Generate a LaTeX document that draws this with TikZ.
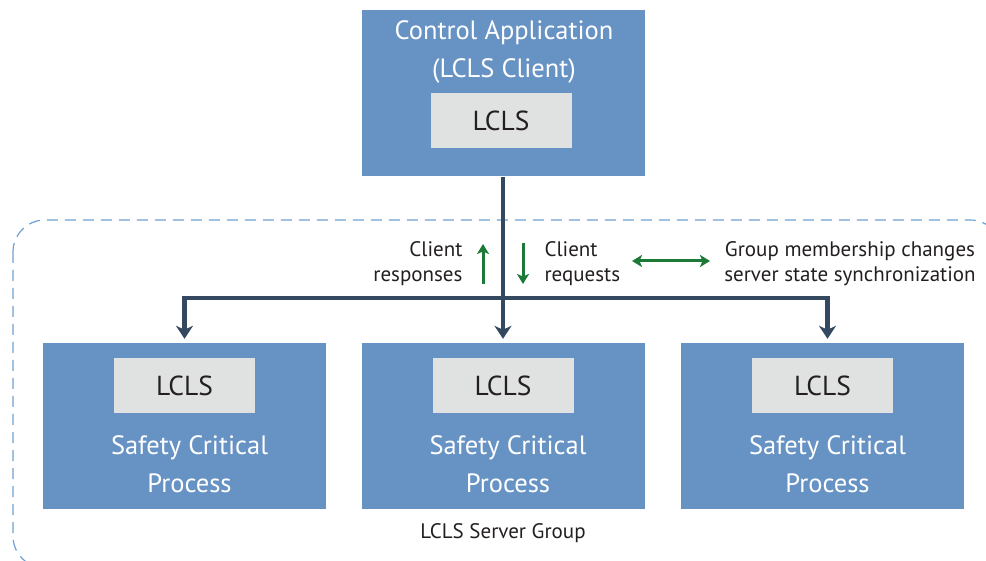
\documentclass[tikz,border=0pt]{standalone}
\usepackage{fontspec}
\setmainfont{PT Sans}
\usetikzlibrary{arrows.meta,positioning}
\definecolor{boxblue}{HTML}{6793C4}
\definecolor{lclsgray}{HTML}{DFE2E1}
\definecolor{linknavy}{HTML}{34495F}
\definecolor{flowgreen}{HTML}{1D7A36}
\definecolor{groupblue}{HTML}{6F9FD2}
\definecolor{txtdark}{HTML}{231F20}
\tikzset{
  procbox/.style={fill=boxblue, minimum width=283, minimum height=166, inner sep=0},
  lclsbox/.style={fill=lclsgray, text=txtdark, minimum width=141, minimum height=55, inner sep=0, font=\fontsize{27.5}{30}\selectfont},
  whitetxt/.style={text=white, align=center, font=\fontsize{26.5}{38}\selectfont},
  note/.style={text=txtdark, font=\fontsize{21}{25}\selectfont},
  link/.style={linknavy, line width=4.5, -{Stealth[length=13,width=17,inset=4]}},
  flow/.style={flowgreen, line width=3, -{Stealth[length=10,width=12,inset=2.5]}}
}
\begin{document}
\begin{tikzpicture}[x=1pt, y=-1pt]
	\useasboundingbox (0,0) rectangle (986,561);
	%server group
	\draw[groupblue, line width=1.2, dash pattern=on 11 off 7, rounded corners=32] (13,220) rectangle (1002,568);
	\node[note] (group) at (503,533) {LCLS Server Group};
	%client
	\node[procbox] (app) at (503,93.5) {};
	\node[whitetxt] (apptitle) at (504,52) {Control Application\\(LCLS Client)};
	\node[lclsbox] (applcls) at (501,120.5) {LCLS};
	%servers
	\foreach \name/\cx in {left/184.5, mid/503, right/822.5}{
		\node[procbox] (\name) at (\cx,426) {};
		\node[lclsbox] (\name lcls) at (\cx,386) {LCLS};
		\node[whitetxt] (\name title) at (\cx+5,464) {Safety Critical\\Process};
	}
	%links
	\coordinate (split) at (503,298);
	\draw[link] (app.south) -- ([yshift=4]mid.north);
	\draw[link] (split) -| ([yshift=4]left.north);
	\draw[link] (split) -| ([xshift=5,yshift=4]right.north);
	%labels
	\node[note, align=right, anchor=east] (resp) at (466,264) {Client\\responses};
	\node[note, align=left, anchor=west] (req) at (541,264) {Client\\requests};
	\node[note, align=center] (sync) at (850,264) {Group membership changes\\server state synchronization};
	\coordinate (upfoot) at (483,284);
	\coordinate (uphead) at (483,244);
	\coordinate (downfoot) at (523,243);
	\coordinate (downhead) at (523,284);
	\coordinate (syncL) at (632,261);
	\coordinate (syncR) at (710,261);
	\draw[flow] (upfoot) -- (uphead);
	\draw[flow] (downfoot) -- (downhead);
	\draw[flow, {Stealth[length=10,width=12,inset=2.5]}-{Stealth[length=10,width=12,inset=2.5]}] (syncL) -- (syncR);
\end{tikzpicture}
\end{document}
